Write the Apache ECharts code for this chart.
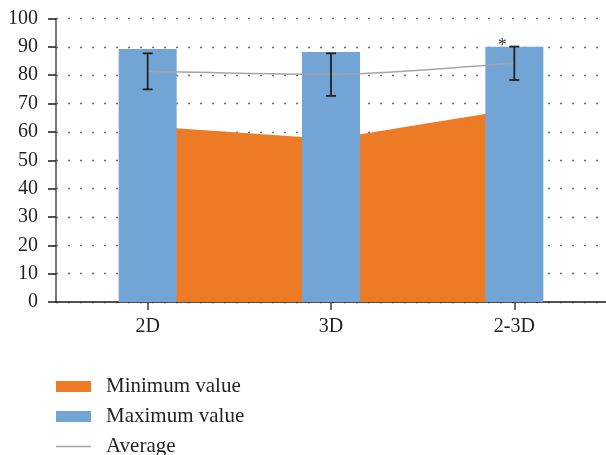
<!DOCTYPE html>
<html>
<head>
<meta charset="utf-8">
<script src="https://cdn.jsdelivr.net/npm/echarts@6/dist/echarts.min.js"></script>
<style>
html,body{margin:0;padding:0;background:#fff;}
#chart{width:606px;height:455px;}
</style>
</head>
<body>
<div id="chart"></div>
<script>
const categories = ['2D', '3D', '2-3D'];
const minValues = [62, 57.5, 68];
const maxValues = [89.2, 88.2, 90];
const avgValues = [81.4, 80.3, 84.3];
const errLow = [75.0, 72.7, 78.3];
const errHigh = [87.7, 87.7, 90.1];
const sigMarks = ['', '', '*'];
const yTicks = [0, 10, 20, 30, 40, 50, 60, 70, 80, 90, 100];

const FONT = '"Liberation Serif", "Times New Roman", serif';
const errData = categories.map((c, i) => [i, errLow[i], errHigh[i], sigMarks[i]]);

const chart = echarts.init(document.getElementById('chart'), null, {renderer: 'canvas'});
chart.setOption({
  animation: false,
  backgroundColor: '#ffffff',
  grid: {left: 56, top: 18.5, width: 553, height: 283.5, containLabel: false},
  legend: {
    orient: 'vertical',
    left: 56,
    top: 376,
    height: 90,
    padding: 0,
    itemWidth: 35,
    itemHeight: 11,
    itemGap: 9,
    textStyle: {fontFamily: FONT, fontSize: 21, color: '#231f20', lineHeight: 20, padding: [0, 0, 0, 10]},
    data: [
      {name: 'Minimum value', icon: 'rect', itemStyle: {color: '#ED7B26'}},
      {name: 'Maximum value', icon: 'rect', itemStyle: {color: '#72A5D5'}},
      {name: 'Average', icon: 'path://M0,0H35V1.6H0Z', itemStyle: {color: '#A5A5A5'}}
    ]
  },
  xAxis: {
    type: 'category',
    data: categories,
    boundaryGap: true,
    axisLine: {show: true, lineStyle: {color: '#1a1a1a', width: 1.5}},
    axisTick: {show: true, alignWithLabel: true, length: 8, lineStyle: {color: '#404040', width: 1.5}},
    axisLabel: {fontFamily: FONT, fontSize: 20, color: '#231f20', margin: 15},
    splitLine: {show: false}
  },
  yAxis: {
    type: 'value',
    min: yTicks[0],
    max: yTicks[yTicks.length - 1],
    interval: 10,
    axisLine: {show: true, lineStyle: {color: '#4d4d4d', width: 1.5}},
    axisTick: {show: true, length: 8, lineStyle: {color: '#1a1a1a', width: 1.5}},
    axisLabel: {fontFamily: FONT, fontSize: 20, color: '#231f20', margin: 18},
    splitLine: {show: true, lineStyle: {color: '#6e6e6e', width: 1.3, type: [2, 10]}}
  },
  series: [
    {
      name: 'Minimum value',
      type: 'line',
      data: minValues,
      showSymbol: false,
      symbol: 'none',
      lineStyle: {width: 0, color: '#ED7B26'},
      itemStyle: {color: '#ED7B26'},
      areaStyle: {color: '#ED7B26', opacity: 1},
      z: 1
    },
    {
      name: 'Maximum value',
      type: 'bar',
      data: maxValues,
      barWidth: 58,
      itemStyle: {color: '#72A5D5'},
      z: 2
    },
    {
      name: 'Average',
      type: 'line',
      data: avgValues,
      showSymbol: false,
      symbol: 'none',
      smooth: 0.25,
      lineStyle: {width: 1.5, color: '#A5A5A5'},
      itemStyle: {color: '#A5A5A5'},
      z: 3
    },
    {
      name: 'Error',
      type: 'custom',
      data: errData,
      z: 4,
      renderItem: function (params, api) {
        const i = api.value(0);
        const lo = api.coord([i, api.value(1)]);
        const hi = api.coord([i, api.value(2)]);
        const cap = 5;
        const st = {stroke: '#222222', lineWidth: 1.8};
        const children = [
          {type: 'line', shape: {x1: lo[0], y1: lo[1], x2: hi[0], y2: hi[1]}, style: st},
          {type: 'line', shape: {x1: lo[0] - cap, y1: lo[1], x2: lo[0] + cap, y2: lo[1]}, style: st},
          {type: 'line', shape: {x1: hi[0] - cap, y1: hi[1], x2: hi[0] + cap, y2: hi[1]}, style: st}
        ];
        const mark = sigMarks[params.dataIndex];
        if (mark) {
          children.push({
            type: 'text',
            x: hi[0] - 12,
            y: hi[1],
            style: {text: mark, fontFamily: FONT, fontSize: 18, fill: '#333333', align: 'center', verticalAlign: 'middle'}
          });
        }
        return {type: 'group', children: children};
      }
    }
  ]
});
</script>
</body>
</html>
